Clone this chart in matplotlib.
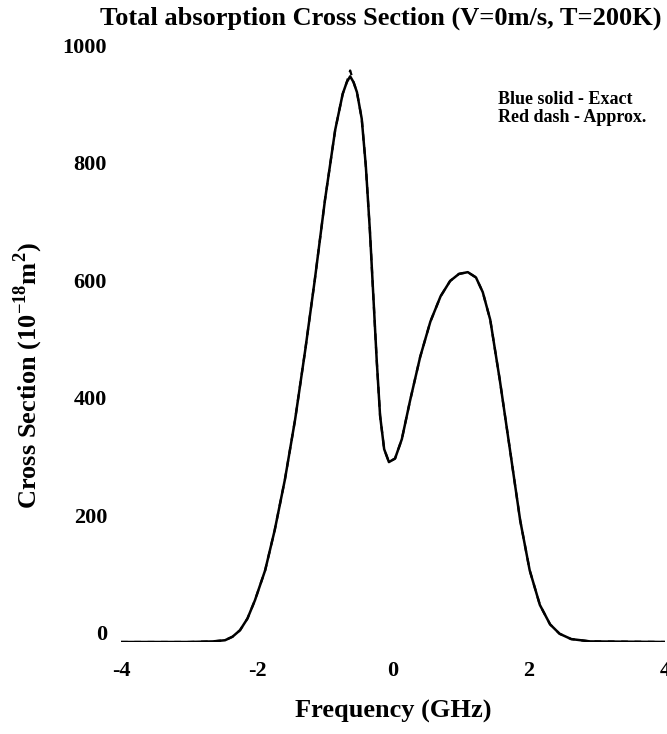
import matplotlib.pyplot as plt
import matplotlib.transforms as mtransforms

# values (frequency in GHz, cross section in 1e-18 m^2)
freq = [-4.0, -3.0, -2.65, -2.47, -2.36, -2.25, -2.14, -2.03, -1.88, -1.74,
        -1.59, -1.44, -1.29, -1.15, -1.00, -0.85, -0.74, -0.68, -0.63, -0.58,
        -0.53, -0.46, -0.40, -0.34, -0.29, -0.24, -0.19, -0.13, -0.06, 0.03,
        0.13, 0.25, 0.40, 0.55, 0.70, 0.84, 0.97, 1.10, 1.22, 1.32,
        1.43, 1.57, 1.72, 1.87, 2.01, 2.16, 2.31, 2.45, 2.62, 2.90, 4.0]
exact = [0, 0, 1, 3, 9, 20, 40, 71, 122, 190,
         276, 378, 497, 616, 752, 871, 932, 952, 962, 952,
         935, 890, 810, 700, 590, 480, 385, 328, 306, 312,
         345, 410, 485, 545, 588, 614, 626, 629, 620, 595,
         548, 446, 327, 207, 122, 63, 30, 14, 5, 1, 0]
approx = list(exact)
approx[18] = 972   # dashed curve pokes just above the exact peak

xticks = [-4, -2, 0, 2, 4]
yticks = [0, 200, 400, 600, 800, 1000]

plt.rcParams['font.family'] = ['Liberation Serif', 'DejaVu Serif']
plt.rcParams['font.weight'] = 'bold'
plt.rcParams['axes.unicode_minus'] = False

fig = plt.figure(figsize=(6.67, 7.34), dpi=100)
ax = fig.add_axes([121 / 667, 92 / 734, 544 / 667, 588 / 734])

ax.plot(freq, exact, color='black', lw=1.8, solid_joinstyle='round')
ax.plot(freq, approx, color='black', lw=1.6, ls=(0, (3, 3)))

ax.set_xlim(-4, 4)
ax.set_ylim(0, 1000)
ax.set_xticks(xticks)
ax.set_yticks(yticks)
ax.tick_params(length=0, labelsize=16, pad=14)
ax.tick_params(axis='y', pad=10)
for sp in ax.spines.values():
    sp.set_visible(False)

# the scan has the y labels sitting a little above their ticks
shift = mtransforms.ScaledTranslation(0, 9 / 100, fig.dpi_scale_trans)
for lab in ax.get_yticklabels():
    lab.set_transform(lab.get_transform() + shift)

fig.text(381, 734 - 18, 'Total absorption Cross Section (V=0m/s, T=200K)',
         fontsize=19, ha='center', va='center', transform=None)
fig.text(393, 734 - 711, 'Frequency (GHz)', fontsize=19, ha='center', va='center',
         transform=None)
fig.text(28, 734 - 376,
         r'Cross Section (10$^{\mathregular{-18}}$m$^{\mathregular{2}}$)',
         fontsize=19, rotation=90, ha='center', va='center', transform=None)

fig.text(498, 734 - 100, 'Blue solid - Exact', fontsize=13, va='center', transform=None)
fig.text(498, 734 - 118, 'Red dash - Approx.', fontsize=13, va='center', transform=None)

fig.savefig('out.png', dpi=100)
